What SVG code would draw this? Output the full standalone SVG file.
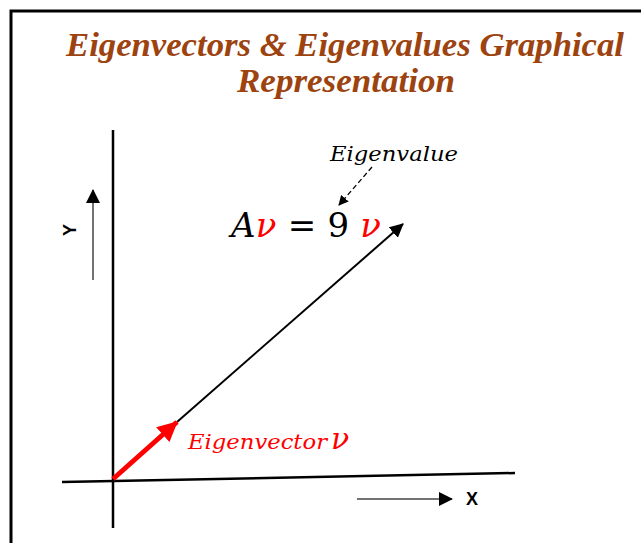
<svg xmlns="http://www.w3.org/2000/svg" width="641" height="543" viewBox="0 0 641 543">
<style>
.title{font-family:"Liberation Serif",serif;font-weight:bold;font-style:italic;font-size:34px;fill:#9C4310;text-anchor:middle}
.math{font-family:"DejaVu Serif","Liberation Serif",serif;font-size:34px;fill:#000}
.it{font-style:italic}
.red{fill:#FF0000}
.lab{font-family:"DejaVu Serif","Liberation Serif",serif;font-style:italic;font-size:21px}
.axl{font-family:"Liberation Sans",Arial,sans-serif;font-weight:bold;font-size:18px;fill:#000}
.ln{stroke:#000;fill:none}
</style>
<defs>
<marker id="ah" markerWidth="10" markerHeight="10" refX="9" refY="5" orient="auto" markerUnits="userSpaceOnUse"><path d="M0,0 L10,5 L0,10 Z" fill="#000"/></marker>
<marker id="ahb" markerWidth="14" markerHeight="14" refX="13" refY="7" orient="auto" markerUnits="userSpaceOnUse"><path d="M0,0 L14,7 L0,14 Z" fill="#000"/></marker>
<marker id="ahr" markerWidth="20" markerHeight="20" refX="19" refY="10" orient="auto" markerUnits="userSpaceOnUse"><path d="M0,0 L20,10 L0,20 Z" fill="#FF0000"/></marker>
</defs>
<rect width="641" height="543" fill="#fff"/>
<path d="M11,543 L11,11 L641,11" class="ln" stroke-width="3"/>
<g id="title">
<text class="title" x="345" y="56" textLength="558" lengthAdjust="spacingAndGlyphs">Eigenvectors &amp; Eigenvalues Graphical</text>
<text class="title" x="346" y="92" textLength="218" lengthAdjust="spacingAndGlyphs">Representation</text>
</g>
<g id="connectors">
<line id="y-axis" x1="113" y1="130" x2="113" y2="528" class="ln" stroke-width="2.5"/>
<line id="x-axis" x1="62" y1="482" x2="515" y2="473" class="ln" stroke-width="2.5"/>
<line x1="177" y1="422" x2="403" y2="224" class="ln" stroke-width="2" marker-end="url(#ahb)"/>
<line x1="113" y1="479" x2="177" y2="422" stroke="#FF0000" stroke-width="5" marker-end="url(#ahr)"/>
<line x1="93" y1="280" x2="93" y2="190" stroke="#444" stroke-width="1.5" marker-end="url(#ahb)"/>
<line x1="357" y1="499" x2="452" y2="499" stroke="#444" stroke-width="1.5" marker-end="url(#ahb)"/>
<line x1="372" y1="167" x2="339" y2="205" class="ln" stroke-width="1.3" stroke-dasharray="5,3" marker-end="url(#ah)"/>
</g>
<g id="equation">
<text class="math" x="231" y="237" textLength="150" lengthAdjust="spacing"><tspan class="it">A</tspan><tspan class="it red">ν</tspan> = 9 <tspan class="it red">ν</tspan></text>
</g>
<g id="eigenvalue-label">
<text class="lab" x="330" y="161" fill="#000" textLength="128" lengthAdjust="spacingAndGlyphs">Eigenvalue</text>
</g>
<g id="eigenvector-label">
<text x="188" y="449" class="red"><tspan class="lab" textLength="139" lengthAdjust="spacingAndGlyphs">Eigenvector</tspan><tspan dx="4" font-family="DejaVu Serif,serif" font-style="italic" font-size="30px">ν</tspan></text>
</g>
<g id="axis-labels">
<text class="axl" x="466" y="505">X</text>
<text class="axl" transform="translate(76,230) rotate(-90)" text-anchor="middle">Y</text>
</g>
</svg>
